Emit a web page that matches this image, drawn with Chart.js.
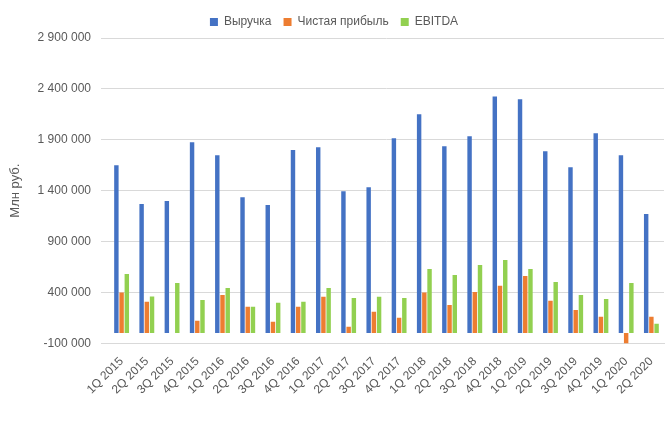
<!DOCTYPE html>
<html>
<head>
<meta charset="utf-8">
<script src="https://cdn.jsdelivr.net/npm/chart.js@4"></script>
<style>
  body { margin: 0; background: #fff; }
  #wrap { width: 672px; height: 422px; }
</style>
</head>
<body>
<div id="wrap"><canvas id="chart"></canvas></div>
<script>
// Quarters
const quarters = ['1Q 2015', '2Q 2015', '3Q 2015', '4Q 2015', '1Q 2016', '2Q 2016', '3Q 2016', '4Q 2016',
  '1Q 2017', '2Q 2017', '3Q 2017', '4Q 2017', '1Q 2018', '2Q 2018', '3Q 2018', '4Q 2018',
  '1Q 2019', '2Q 2019', '3Q 2019', '4Q 2019', '1Q 2020', '2Q 2020'];

// Values, mln rub
const revenue = [1650000, 1268000, 1297000, 1875000, 1748000, 1336000, 1258000, 1800000,
  1826000, 1395000, 1434000, 1915000, 2150000, 1836000, 1934000, 2326000,
  2297000, 1787000, 1630000, 1964000, 1748000, 1170000];
const netProfit = [398000, 307000, 0, 121000, 375000, 258000, 111000, 258000,
  356000, 62000, 209000, 150000, 398000, 277000, 405000, 464000,
  562000, 317000, 228000, 160000, -110000, 160000];
const ebitda = [581000, 359000, 493000, 326000, 444000, 258000, 297000, 307000,
  444000, 346000, 356000, 346000, 630000, 572000, 670000, 719000,
  630000, 503000, 375000, 336000, 493000, 91000];

const fmt = v => String(v).replace(/\B(?=(\d{3})+(?!\d))/g, ' ');

new Chart(document.getElementById('chart'), {
  type: 'bar',
  data: {
    labels: quarters,
    datasets: [
      { label: 'Выручка', data: revenue, backgroundColor: '#4472C4' },
      { label: 'Чистая прибыль', data: netProfit, backgroundColor: '#ED7D31' },
      { label: 'EBITDA', data: ebitda, backgroundColor: '#92D050' }
    ]
  },
  options: {
    responsive: true,
    maintainAspectRatio: false,
    animation: false,
    layout: { padding: { left: 4, right: 8, top: 4, bottom: 22 } },
    datasets: { bar: { categoryPercentage: 0.62, barPercentage: 0.85 } },
    plugins: {
      legend: {
        position: 'top',
        labels: { boxWidth: 8, boxHeight: 8, padding: 12, font: { family: 'Liberation Sans', size: 12 }, color: '#595959' }
      },
      tooltip: { enabled: false }
    },
    scales: {
      x: {
        grid: { display: false },
        border: { color: '#d9d9d9' },
        ticks: { maxRotation: 45, minRotation: 45, autoSkip: false, color: '#595959',
          font: { family: 'Liberation Sans', size: 12 } }
      },
      y: {
        min: -100000,
        max: 2900000,
        ticks: { stepSize: 500000, color: '#595959', padding: 10, font: { family: 'Liberation Sans', size: 12 },
          callback: v => fmt(v) },
        grid: { color: '#d9d9d9' },
        border: { display: false },
        title: { display: true, text: 'Млн руб.', color: '#595959', font: { family: 'Liberation Sans', size: 13 } }
      }
    }
  }
});
</script>
</body>
</html>
